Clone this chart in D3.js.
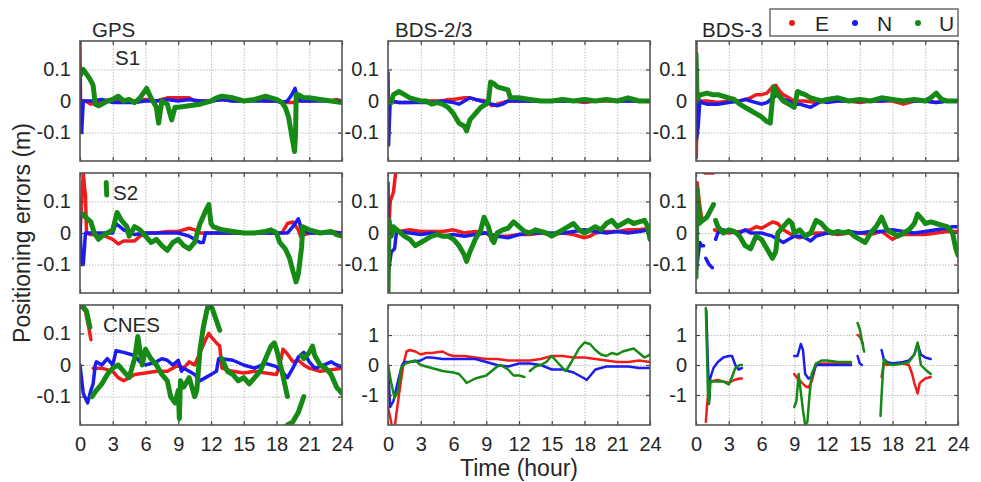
<!DOCTYPE html>
<html>
<head>
<meta charset="utf-8">
<script src="https://cdnjs.cloudflare.com/ajax/libs/d3/7.8.5/d3.min.js"></script>
<style>
  body { margin: 0; background: #fff; }
  text { font-family: "Liberation Sans", Arial, sans-serif; fill: #262626; }
</style>
</head>
<body>
<div id="chart"></div>
<script>
// systems (columns) and strategies (rows)
var systems = ["GPS", "BDS-2/3", "BDS-3"];
var strategies = ["S1", "S2", "CNES"];
var components = ["E", "N", "U"];
var compColors = ["#f01c1c", "#1c1cf0", "#158a15"];
var xTicks = [0, 3, 6, 9, 12, 15, 18, 21, 24];
var smallTicks = [-0.1, 0, 0.1];
var bigTicks = [-1, 0, 1];

// [hour, error (m)], null value = gap
var gpsS1E = [[0,0.19],[0.05,0],[0.5,0],[1,-0.01],[1.5,-0.005],[2,0],[3,0.005],[4,0],[5,0],[6,0.005],[7,0],[8,0.01],[9,0.01],[10,0.01],[10.5,0],[11,0],[12,0],[13,0.005],[14,0],[15,0],[16,0.005],[17,0],[18,0],[19,-0.005],[19.5,-0.005],[20,0],[21,0],[22,0.005],[23,0],[23.5,0.005],[24,0]];
var gpsS1N = [[0,0.07],[0.05,-0.1],[0.15,-0.1],[0.3,0],[1,0],[2,0.005],[3,-0.005],[4,-0.005],[5,-0.005],[6,0],[7,0],[8,0.005],[9,0],[10,0.005],[11,0],[12,0],[13,0.005],[14,0],[15,0],[16,0],[17,0],[18,0],[18.5,-0.005],[19,0],[19.4,0.02],[19.7,0.04],[19.9,0.01],[20.2,0],[21,0],[22,0],[23,0],[24,0]];
var gpsS1U = [[0,0.08],[0.3,0.1],[0.6,0.085],[0.9,0.07],[1.2,0.05],[1.4,-0.01],[1.7,-0.015],[2,-0.01],[2.5,0],[3,0.005],[3.5,0.015],[4,0],[4.5,0.005],[5,-0.005],[5.5,0.01],[6.1,0.04],[6.5,0.01],[7,-0.02],[7.2,-0.07],[7.5,0],[8,-0.01],[8.4,-0.06],[8.7,-0.02],[9,-0.02],[10,-0.015],[11,-0.01],[12,0],[12.5,0.01],[13,0.015],[14,0.01],[15,0],[16,0.005],[17,0.015],[17.5,0.01],[18,0.005],[18.5,-0.005],[18.8,-0.02],[19.1,-0.05],[19.3,-0.09],[19.5,-0.13],[19.65,-0.16],[19.75,-0.1],[19.8,0.02],[20,0.02],[20.5,0.01],[21,0.01],[22,0.005],[23,0],[24,-0.005]];

var gpsS2E = [[0,0],[0.3,0.19],[0.4,0.15],[0.5,0.12],[0.6,0],[1,-0.005],[2,-0.005],[3,-0.02],[3.5,-0.035],[4,-0.025],[5,-0.025],[5.5,-0.01],[6,0],[7,0],[8,0.005],[9,0.005],[10,0.015],[10.5,0.01],[11,0],[12,0],[13,0],[14,0],[15,0],[16,0],[17,0],[18,0],[18.5,0],[19,0.03],[19.5,0.035],[20,0.01],[20.2,-0.01],[21,0],[22,0],[23,0.005],[24,0]];
var gpsS2N = [[0,0.06],[0.1,-0.1],[0.3,-0.1],[0.4,-0.05],[0.5,0],[1,0],[2,0],[3,0],[3.3,0.03],[4,0.01],[5,-0.005],[6,0],[7,0],[8,0],[9,0],[10,-0.01],[10.5,-0.02],[11,-0.03],[11.3,-0.03],[11.5,0],[12,0],[13,0],[14,0],[15,0],[16,0],[17,0],[18,0],[18.5,0],[19,0],[19.5,0.02],[20,0.045],[20.3,0.01],[21,0],[22,0],[23,0],[24,0]];
var gpsS2U = [[0.3,0.06],[0.5,0.05],[1,0.035],[1.3,0],[1.7,-0.02],[2,-0.01],[2.5,0],[3,0.01],[3.4,0.065],[3.8,0.04],[4.3,0.02],[4.5,-0.01],[5,0.02],[5.5,0.01],[6,-0.01],[6.5,-0.03],[7,-0.02],[7.5,-0.04],[8,-0.055],[8.5,-0.03],[9,-0.02],[9.5,-0.04],[10,-0.05],[10.5,-0.03],[11,0.03],[11.5,0.07],[11.8,0.09],[12,0.03],[12.2,0.02],[13,0.01],[14,0.005],[15,0],[16,0],[17,0.005],[17.5,0.01],[18,0],[18.3,-0.03],[18.8,-0.05],[19.2,-0.08],[19.5,-0.12],[19.8,-0.155],[20,-0.13],[20.3,-0.045],[20.4,0.02],[21,0.01],[22,0],[23,0.005],[23.5,-0.005],[24,-0.01],[24,null],[2.4,0.16],[2.45,0.12]];

var gpsCnE = [[0,0.19],[0.5,0.17],[0.8,0.12],[1,0.08],[1.05,null],[1.2,-0.01],[2,-0.01],[3,-0.02],[3.5,-0.04],[4,-0.05],[4.5,-0.04],[5,-0.03],[6,-0.025],[7,-0.02],[8,-0.02],[8.5,-0.01],[9,0],[9.5,-0.01],[10,0.01],[10.5,0],[11,0.04],[11.5,0.08],[11.8,0.1],[12,0.09],[12.5,0.07],[12.8,0.06],[13,-0.01],[14,-0.02],[15,-0.025],[16,-0.02],[17,-0.025],[18,-0.03],[18.3,0],[18.6,0.05],[19,0.035],[19.5,0.01],[20,0.015],[20.5,0],[21,-0.01],[22,-0.02],[23,-0.015],[24,-0.01]];
var gpsCnN = [[0,0],[0.3,-0.09],[0.7,-0.12],[1,-0.08],[1.2,-0.06],[1.4,0],[1.5,0.01],[2,0],[2.5,0.02],[3,0],[3.3,0.045],[4,0.04],[5,0.03],[5.5,0.01],[6,0],[7,0.01],[7.5,0.02],[8,0.015],[8.5,0],[9,0.015],[9.3,-0.02],[9.5,-0.01],[10,-0.02],[10.5,-0.03],[11,-0.05],[11.5,-0.04],[12,-0.03],[12.5,-0.02],[12.7,0.02],[13,0.02],[14,0.015],[15,0],[16,-0.01],[17,0.005],[18,-0.005],[18.5,-0.02],[19,-0.04],[19.5,-0.01],[20,0.025],[20.5,0.04],[21,0.01],[21.5,-0.01],[22,-0.005],[23,0.01],[23.5,0],[24,-0.005]];
var gpsCnU = [[0.2,0.19],[0.6,0.17],[0.9,0.12],[1,null],[1.1,-0.1],[1.5,-0.08],[2,-0.06],[2.5,-0.03],[3,-0.01],[3.5,0],[4,-0.02],[4.5,-0.04],[5,0.02],[5.3,0.09],[5.7,0],[6,0.05],[6.5,0.02],[7,0],[7.5,-0.03],[8,-0.05],[8.3,-0.1],[8.7,-0.12],[9,-0.08],[9.1,-0.17],[9.2,-0.05],[9.5,-0.07],[10,-0.04],[10.5,-0.1],[10.7,-0.08],[11,0.05],[11.3,0.12],[11.7,0.185],[12.1,0.18],[12.5,0.14],[12.8,0.11],[12.9,null],[13,0.02],[13.5,-0.02],[14,-0.03],[14.5,-0.05],[15,-0.04],[15.5,-0.06],[16,-0.04],[16.5,-0.02],[17,0.02],[17.5,0.06],[17.8,0.07],[18,0.05],[18.5,-0.02],[19,-0.1],[19.2,null],[19,-0.19],[19.5,-0.18],[20,-0.15],[20.5,-0.1],[20.6,null],[20.3,0.03],[20.5,0.02],[21,0.04],[21.3,0.06],[21.5,0.03],[22,0],[22.5,-0.01],[23,-0.03],[23.5,-0.07],[24,-0.09]];

var b23S1E = [[0,0],[1,-0.005],[2,-0.005],[3,0],[4,0],[5,0],[5.5,0.005],[6,0.005],[7,0.01],[7.5,0.01],[8,0.005],[9,0],[9.5,-0.015],[10,-0.01],[10.5,-0.005],[11,0],[12,0],[13,0],[14,0],[15,0],[16,0],[17,0],[18,-0.005],[19,0],[20,0],[21,0],[22,0],[23,0],[24,0]];
var b23S1N = [[0,0.09],[0.05,-0.14],[0.2,0],[1,-0.005],[2,-0.005],[3,-0.005],[4,-0.005],[5,0],[6,-0.005],[6.5,-0.01],[7,0],[7.5,0.01],[8,0.005],[8.5,0],[9,-0.005],[9.5,-0.01],[10,-0.015],[10.5,-0.01],[11,0],[12,0],[13,0],[14,0],[15,0],[16,0],[17,0],[18,0],[19,0],[20,0.005],[21,0],[22,0],[23,0],[24,0]];
var b23S1U = [[0,0],[0.3,-0.005],[0.5,0.02],[1,0.03],[1.5,0.02],[2,0.01],[2.5,0.005],[3,0],[3.5,0],[4,-0.01],[4.5,-0.005],[5,-0.01],[5.5,-0.02],[6,-0.04],[6.5,-0.07],[7,-0.08],[7.2,-0.095],[7.5,-0.06],[8,-0.04],[8.5,-0.02],[9,-0.01],[9.2,0],[9.4,0.06],[9.7,0.055],[10,0.045],[10.5,0.04],[11,0.035],[11.2,0.01],[11.5,0.01],[12,0.01],[13,0.005],[14,0],[15,0],[16,0.005],[17,0],[18,0.005],[19,0],[20,0.005],[21,0],[22,0.01],[23,0],[24,0]];

var b23S2E = [[0,-0.05],[0.2,0.1],[0.5,0.13],[0.7,0.19],[0.75,null],[0.8,0.01],[1,0.005],[2,0.01],[3,0.005],[4,0.005],[5,0.005],[6,0.01],[7,0],[8,0.005],[9,0],[9.5,-0.015],[10,-0.01],[11,-0.01],[12,-0.005],[13,-0.005],[14,0],[15,-0.005],[16,0],[17,-0.005],[18,-0.015],[18.5,-0.01],[19,0],[20,0.005],[21,0.005],[22,0.01],[23,0.01],[24,0.015]];
var b23S2N = [[0,0.16],[0.05,-0.12],[0.3,-0.06],[0.6,-0.05],[0.8,0.01],[1,0.005],[2,0],[3,-0.005],[4,0],[5,-0.01],[6,-0.005],[7,-0.01],[8,-0.005],[9,0],[10,-0.01],[11,-0.015],[12,-0.005],[13,0],[14,0],[15,0],[16,0],[17,0.005],[18,0.01],[19,0.005],[20,0],[21,0.005],[22,0],[23,0.005],[24,0.01]];
var b23S2U = [[0,-0.19],[0.1,0.04],[0.3,-0.01],[0.5,0.02],[0.8,0.01],[1,0.005],[1.5,-0.01],[2,-0.02],[2.5,-0.04],[3,-0.03],[3.5,-0.02],[4,-0.01],[4.5,-0.005],[5,-0.01],[5.5,-0.01],[6,-0.02],[6.5,-0.04],[7,-0.07],[7.2,-0.09],[7.5,-0.06],[8,-0.02],[8.5,0.01],[8.8,0.05],[9.2,0.02],[9.5,-0.02],[9.7,-0.03],[10,0],[10.5,0.01],[11,0.015],[11.5,0.035],[12,0.02],[12.5,0.005],[13,0],[13.5,0.01],[14,0.005],[14.5,0],[15,-0.01],[15.5,0],[16,0.01],[16.5,0.02],[17,0.03],[17.5,0.01],[18,0],[18.5,0.01],[19,0.02],[19.5,0.01],[20,0.03],[20.5,0.04],[21,0.02],[21.5,0.03],[22,0.04],[22.5,0.03],[23,0.035],[23.5,0.04],[23.8,0.02],[24,-0.02]];

var b23CnE = [[0,-1.4],[0.4,-2.1],[0.6,-2.1],[1,-1],[1.4,0],[1.7,0.45],[2,0.5],[2.5,0.45],[3,0.35],[3.5,0.4],[4,0.4],[5,0.45],[5.5,0.35],[6,0.3],[7,0.3],[8,0.25],[9,0.2],[10,0.2],[11,0.15],[12,0.15],[13,0.15],[14,0.2],[15,0.3],[16,0.3],[17,0.25],[18,0.25],[19,0.2],[20,0.15],[21,0.1],[22,0.1],[23,0.15],[24,0.1]];
var b23CnN = [[0,0],[0.2,-1.4],[0.5,-1.2],[1,-0.4],[1.3,0],[1.5,0.1],[2,0.1],[3,0.15],[3.5,0.25],[4,0.25],[5,0.2],[6,0.2],[7,0.2],[8,0.2],[9,0.1],[10,0],[11,-0.05],[12,0.05],[13,0.05],[14,0],[15,-0.15],[16,-0.15],[17,-0.25],[18,-0.45],[18.2,-0.5],[19,-0.15],[20,-0.05],[21,-0.05],[22,-0.05],[23,-0.1],[24,-0.1]];
var b23CnU = [[0,0],[0.3,-0.6],[0.6,-1.1],[0.9,-0.9],[1.2,-0.1],[1.6,0.05],[2,0.1],[2.5,0.15],[3,0],[4,-0.1],[5,-0.2],[6,-0.25],[6.5,-0.3],[7,-0.5],[7.2,-0.6],[8,-0.45],[9,-0.35],[10,-0.05],[10.3,0],[11,-0.15],[11.5,-0.35],[12,-0.35],[12.5,-0.4],[12.6,null],[13,-0.2],[13.5,-0.05],[14,0],[14.5,0.1],[15,0.3],[15.5,0.1],[16,-0.1],[16.3,-0.2],[16.8,0.1],[17.5,0.55],[18,0.75],[18.5,0.7],[19,0.5],[19.5,0.35],[20,0.3],[20.5,0.4],[21,0.35],[21.5,0.45],[22,0.5],[22.5,0.55],[23,0.4],[23.5,0.25],[24,0.35]];

var b3S1E = [[0,0.19],[0.03,-0.18],[0.1,0],[1,0],[2,-0.005],[3,0],[4,0],[5,0.01],[5.5,0.02],[6,0.02],[6.5,0.025],[7,0.045],[7.3,0.05],[7.7,0.03],[8,0.02],[8.5,0.01],[9,0],[10,0],[11,-0.005],[12,0],[13,0],[14,0],[15,-0.005],[16,0],[17,0],[18,0],[19,-0.01],[20,0],[21,0],[22,-0.005],[23,0],[24,0]];
var b3S1N = [[0,0],[0.05,-0.12],[0.2,-0.08],[0.35,0],[0.5,-0.005],[1,-0.01],[2,-0.01],[3,-0.005],[4,0],[4.5,0.005],[5,0],[5.5,-0.005],[6,-0.01],[6.5,-0.005],[7,0.01],[7.5,0.02],[8,0.005],[8.5,0],[9,-0.01],[9.5,-0.01],[10,-0.015],[10.5,-0.02],[11,-0.01],[11.5,0],[12,-0.005],[13,0],[14,0],[15,0],[16,0],[17,0],[18,0.005],[19,0],[20,0],[21,0],[22,-0.005],[23,0],[24,0]];
var b3S1U = [[0,0.15],[0.1,0],[0.3,0.02],[0.5,0.02],[1,0.025],[1.5,0.02],[2,0.02],[2.5,0.015],[3,0.01],[3.5,0.005],[4,-0.01],[4.5,-0.02],[5,-0.03],[5.5,-0.04],[6,-0.05],[6.5,-0.065],[6.8,-0.07],[7.1,0.045],[7.5,0.02],[8,0],[8.5,-0.01],[9,-0.02],[9.3,0.03],[9.6,0.025],[10,0.02],[10.5,0.01],[11,0.005],[11.5,0],[12,0.005],[13,0.01],[14,0],[15,0.005],[16,0],[17,0.01],[18,0.005],[19,0],[20,0.005],[21,0],[21.5,0.01],[22,0.025],[22.5,0.005],[23,0],[24,0]];

var b3S2E = [[0,0],[0.1,0.16],[0.3,0.1],[0.5,0.05],[0.6,null],[0.8,0.19],[1.6,0.19],[1.65,null],[1.7,0.01],[2,0.005],[3,0],[4,0.005],[5,0.01],[5.5,0.02],[6,0.015],[7,0.035],[7.5,0.03],[8,0.01],[8.5,0],[9,-0.01],[9.5,-0.015],[10,-0.005],[11,0],[12,0],[13,-0.005],[14,0],[15,0],[16,-0.005],[17,0.005],[18,-0.02],[18.5,-0.01],[19,-0.005],[20,-0.005],[21,-0.005],[22,0],[23,0.005],[24,0.005]];
var b3S2N = [[0,-0.13],[0.2,-0.07],[0.35,-0.03],[0.5,-0.04],[0.7,-0.04],[0.8,null],[0.9,-0.08],[1.2,-0.1],[1.5,-0.11],[1.6,null],[1.8,-0.02],[2,0],[2.5,0.01],[3,0.005],[4,0],[4.5,0.01],[5,0],[6,0],[6.5,-0.005],[7,-0.01],[7.5,-0.02],[8,-0.03],[8.5,-0.02],[9,-0.01],[9.5,-0.01],[10,-0.015],[10.5,-0.025],[11,-0.01],[11.5,-0.005],[12,0],[13,0],[14,0.005],[15,0],[16,0.005],[17,0.005],[18,0.01],[19,0.005],[20,0],[21,0.005],[22,0.01],[23,0.015],[23.5,0.02],[24,0.02]];
var b3S2U = [[0,-0.14],[0.1,0.14],[0.3,0.03],[0.6,0.04],[1,0.05],[1.3,0.07],[1.6,0.09],[1.7,null],[1.8,0.04],[2,0.02],[2.5,0],[3,0.01],[3.5,0.005],[4,-0.01],[4.5,-0.04],[5,-0.05],[5.5,-0.01],[6,-0.02],[6.5,-0.05],[7,-0.08],[7.3,-0.06],[7.5,0],[8,0.02],[8.5,0.04],[8.8,0.03],[9,0],[9.5,0.01],[10,-0.01],[10.5,0],[11,0.04],[11.5,0.03],[12,0.01],[12.5,0],[13,0.005],[13.5,0],[14,0.005],[14.5,-0.01],[15,-0.02],[15.5,-0.03],[16,0],[16.5,0.02],[17,0.05],[17.5,0.01],[18,0],[18.5,-0.01],[19,0],[19.5,0.01],[20,0.03],[20.3,0.06],[20.8,0.04],[21,0.03],[21.5,0.035],[22,0.03],[22.5,0.025],[23,0.02],[23.5,0],[23.8,-0.05],[24,-0.07]];

var b3CnE = [[0.9,-1.9],[1,-1.4],[1.1,-1],[1.2,-0.8],[1.3,-0.55],[2,-0.5],[2.5,-0.55],[3,-0.6],[3.5,-0.5],[4,-0.45],[4.2,-0.45],[4.3,null],[9,-0.3],[9.3,-0.45],[9.6,-0.55],[10,-0.7],[10.3,-0.75],[10.6,-0.55],[11,0.05],[11.5,0.05],[12,0.05],[13,0.05],[14,0.05],[14.2,0.05],[14.3,null],[14.8,1],[15,0.95],[15.3,0.7],[15.4,null],[17,-0.4],[17.2,0.05],[17.5,0],[18,0.05],[19,0.05],[19.5,0],[19.8,-0.3],[20,-0.6],[20.3,-0.95],[20.5,-0.6],[21,-0.45],[21.5,-0.4]];
var b3CnN = [[0.95,1.8],[1.05,0.5],[1.15,-0.5],[1.25,-1.1],[1.3,-0.45],[1.6,-0.1],[2,0.1],[2.5,0.25],[3,0.3],[3.3,0.3],[3.6,0],[3.9,-0.15],[4.2,-0.1],[4.3,null],[9,0.3],[9.3,0.3],[9.6,0.7],[9.8,0.5],[10,-0.3],[10.3,-0.45],[10.6,-0.4],[11,0],[12,0],[13,0],[14,0],[14.2,0],[14.3,null],[14.8,0.3],[15,0.05],[15.2,0],[15.3,null],[17,0.5],[17.2,0.2],[17.5,0.1],[18,0.05],[19,0.1],[19.5,0.15],[20,0.35],[20.3,0.7],[20.6,0.35],[21,0.25],[21.5,0.2]];
var b3CnU = [[0.9,1.9],[1,0.5],[1.1,-1],[1.2,-1.3],[1.3,-0.55],[2,-0.55],[2.5,-0.55],[3,-0.65],[3.3,-0.4],[3.6,-0.1],[4,0],[4.2,0],[4.3,null],[9,-1.4],[9.2,-1.2],[9.4,-0.3],[9.6,-0.9],[9.8,-1.5],[10,-2],[10.2,-1.9],[10.4,-1],[10.6,-0.3],[11,0.05],[11.5,0.15],[12,0.15],[13,0.1],[14,0.1],[14.2,0.1],[14.3,null],[14.8,1.4],[15,1.2],[15.2,0.8],[15.4,0.45],[15.5,null],[16.9,-1.7],[17,-1],[17.2,0.2],[17.5,0.05],[18,0],[19,0.05],[19.5,0.1],[20,0.35],[20.3,0.75],[20.6,0],[21,-0.15],[21.5,-0.3]];

// rows x columns, each [E, N, U]
var grid = [
    [[gpsS1E, gpsS1N, gpsS1U], [b23S1E, b23S1N, b23S1U], [b3S1E, b3S1N, b3S1U]],
    [[gpsS2E, gpsS2N, gpsS2U], [b23S2E, b23S2N, b23S2U], [b3S2E, b3S2N, b3S2U]],
    [[gpsCnE, gpsCnN, gpsCnU], [b23CnE, b23CnN, b23CnU], [b3CnE, b3CnN, b3CnU]]
];

var W = 981, H = 482;
var colX = [80, 388, 696], rowY = [41, 173, 305];
var pw = 262, ph = 120;

var svg = d3.select("#chart").append("svg")
    .attr("width", W).attr("height", H);

var yFmt = function(d) { return d === 0 ? "0" : String(d); };

grid.forEach(function(rowData, r) {
    rowData.forEach(function(series, c) {
        var big = (r == 2 && c > 0);
        var x = d3.scaleLinear().domain([0, 24]).range([0, pw]);
        var y = d3.scaleLinear().domain(big ? [-2, 2] : [-0.19, 0.19]).range([ph, 0]);
        var yt = big ? bigTicks : smallTicks;

        var g = svg.append("g")
            .attr("transform", "translate(" + colX[c] + "," + rowY[r] + ")");

        // grid
        g.append("g")
            .attr("class", "grid")
            .attr("transform", "translate(0," + ph + ")")
            .call(d3.axisBottom(x).tickValues(xTicks.slice(1, -1)).tickSize(-ph).tickFormat(""));
        g.append("g")
            .attr("class", "grid")
            .call(d3.axisLeft(y).tickValues(yt).tickSize(-pw).tickFormat(""));
        g.selectAll(".grid .domain").remove();
        g.selectAll(".grid line")
            .attr("stroke", "#bdbdbd")
            .attr("stroke-dasharray", "1.5,1.5");

        var cid = "clip" + r + c;
        g.append("clipPath").attr("id", cid)
            .append("rect").attr("width", pw).attr("height", ph);

        var line = d3.line()
            .defined(function(d) { return d[1] !== null; })
            .x(function(d) { return x(d[0]); })
            .y(function(d) { return y(d[1]); });

        var plot = g.append("g").attr("clip-path", "url(#" + cid + ")");
        series.forEach(function(s, i) {
            var sw = big ? 2.5 : (i == 2 ? 5 : 3.5);
            plot.append("path")
                .datum(s)
                .attr("d", line)
                .attr("fill", "none")
                .attr("stroke", compColors[i])
                .attr("stroke-width", sw)
                .attr("stroke-linejoin", "round")
                .attr("stroke-linecap", "round");
        });

        // axes, ticks inside on all four sides
        g.append("g")
            .attr("class", "ax")
            .attr("transform", "translate(0," + ph + ")")
            .call(d3.axisBottom(x).tickValues(xTicks).tickSizeInner(-4).tickSizeOuter(0).tickPadding(12)
                .tickFormat(r == 2 ? d3.format("d") : ""));
        g.append("g")
            .attr("class", "ax")
            .call(d3.axisTop(x).tickValues(xTicks).tickSizeInner(-4).tickSizeOuter(0).tickFormat(""));
        g.append("g")
            .attr("class", "ax")
            .call(d3.axisLeft(y).tickValues(yt).tickSizeInner(-4).tickSizeOuter(0).tickPadding(9).tickFormat(yFmt));
        g.append("g")
            .attr("class", "ax")
            .attr("transform", "translate(" + pw + ",0)")
            .call(d3.axisRight(y).tickValues(yt).tickSizeInner(-4).tickSizeOuter(0).tickFormat(""));
        g.selectAll(".domain").remove();
        g.selectAll(".ax .tick line").attr("stroke", "#444").attr("stroke-width", 1.2);
        g.selectAll(".tick text")
            .attr("fill", "#262626")
            .style("font-size", "20px")
            .style("font-family", "'Liberation Sans', Arial, sans-serif");

        g.append("rect")
            .attr("width", pw).attr("height", ph)
            .attr("fill", "none")
            .attr("stroke", "#555")
            .attr("stroke-width", 1.6);

        if (r == 0) {
            g.append("text")
                .attr("x", [12, 7, 6][c])
                .attr("y", -4)
                .style("font-size", "20.5px")
                .text(systems[c]);
        }
        if (c == 0) {
            g.append("text")
                .attr("x", [35, 33, 23][r])
                .attr("y", [24, 27, 27][r])
                .style("font-size", "20.5px")
                .text(strategies[r]);
        }
    });
});

svg.append("text")
    .attr("x", colX[1] + pw / 2)
    .attr("y", 476)
    .attr("text-anchor", "middle")
    .style("font-size", "23px")
    .text("Time (hour)");

svg.append("text")
    .attr("transform", "translate(30," + 233 + ") rotate(-90)")
    .attr("text-anchor", "middle")
    .style("font-size", "23px")
    .text("Positioning errors (m)");

// legend
var leg = svg.append("g").attr("transform", "translate(770,9)");
leg.append("rect")
    .attr("width", 188).attr("height", 27)
    .attr("fill", "#fff")
    .attr("stroke", "#444")
    .attr("stroke-width", 1.2);
components.forEach(function(k, i) {
    leg.append("circle")
        .attr("cx", 22 + i * 63).attr("cy", 14).attr("r", 3)
        .attr("fill", compColors[i]);
    leg.append("text")
        .attr("x", 45 + i * 62).attr("y", 21.5)
        .style("font-size", "21px")
        .text(k);
});
</script>
</body>
</html>
